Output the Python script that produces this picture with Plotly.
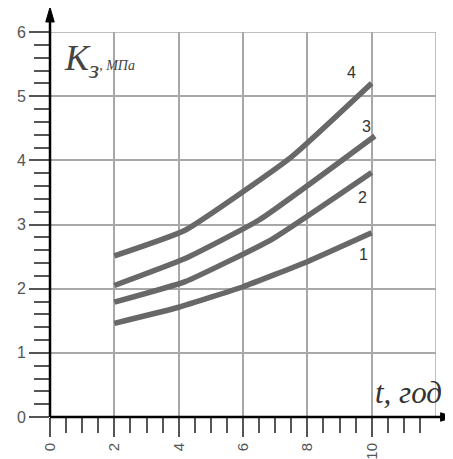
import plotly.graph_objects as go

# ---- data ----
t_c1 = [2, 4, 6, 8, 10]
k_c1 = [1.46, 1.71, 2.03, 2.42, 2.87]
t_c2 = [2, 4.2, 6.9, 10]
k_c2 = [1.79, 2.11, 2.77, 3.81]
t_c3 = [2, 4.2, 6.5, 10.1]
k_c3 = [2.05, 2.47, 3.07, 4.38]
t_c4 = [2, 4.2, 7.5, 10]
k_c4 = [2.51, 2.91, 4.05, 5.20]

curve_names = ["1", "2", "3", "4"]
label_t = [9.75, 9.7, 9.83, 9.37]
label_k = [2.53, 3.42, 4.53, 5.37]

x_ticks = [0, 2, 4, 6, 8, 10]
x_minor = [v / 2 for v in range(1, 24) if v % 4 != 0]
y_ticks = [0, 1, 2, 3, 4, 5, 6]

LINE_COL = "#686868"
GRID_COL = "#a8a8a8"
TXT_COL = "#555555"

fig = go.Figure()
for tt, kk in [(t_c1, k_c1), (t_c2, k_c2), (t_c3, k_c3), (t_c4, k_c4)]:
    fig.add_trace(go.Scatter(x=tt, y=kk, mode="lines",
                             line=dict(color=LINE_COL, width=5.5, shape="spline", smoothing=0.4),
                             hoverinfo="skip", showlegend=False))

for name, lt, lk in zip(curve_names, label_t, label_k):
    fig.add_annotation(x=lt, y=lk, xref="x", yref="y", text=name, showarrow=False,
                       font=dict(family="Liberation Sans, Arial", size=16, color="#333"))

# axis lines with arrows (paper coords)
fig.add_shape(type="line", xref="paper", yref="paper", x0=0, y0=0, x1=0, y1=1.035,
              line=dict(color="black", width=2.5))
fig.add_shape(type="path", xref="paper", yref="paper",
              path="M -0.011,1.026 L 0.011,1.026 L 0,1.064 Z",
              fillcolor="black", line=dict(color="black", width=1))
fig.add_shape(type="line", xref="paper", yref="paper", x0=0, y0=0, x1=1.02, y1=0,
              line=dict(color="black", width=2.5))
fig.add_shape(type="path", xref="paper", yref="paper",
              path="M 1.012,-0.011 L 1.012,0.011 L 1.046,0 Z",
              fillcolor="black", line=dict(color="black", width=1))
# right border and top grid lines
fig.add_shape(type="line", xref="x", yref="y", x0=12, y0=0, x1=12, y1=6,
              line=dict(color=GRID_COL, width=1.5), layer="below")
fig.add_shape(type="line", xref="x", yref="y", x0=0, y0=6, x1=12, y1=6,
              line=dict(color=GRID_COL, width=1.5), layer="below")

# axis titles
fig.add_annotation(xref="paper", yref="paper", x=0.03, y=0.99, xanchor="left", yanchor="top",
                   showarrow=False,
                   text=("<i><span style='font-size:36px'>K</span></i>"
                         "<sub><i><span style='font-size:26px'>з</span></i></sub>"
                         "<i><span style='font-size:14px'>, МПа</span></i>"),
                   font=dict(family="Liberation Serif, Times New Roman", size=36, color="#444"))
fig.add_annotation(xref="paper", yref="paper", x=0.838, y=0.012, xanchor="left", yanchor="bottom",
                   showarrow=False, text="<i>t, год</i>",
                   font=dict(family="Liberation Serif, Times New Roman", size=31, color="#333"))

# the page adds an 8px body margin, so the figure is 8px smaller and shifted accordingly
fig.update_layout(
    width=445, height=451,
    margin=dict(l=42, r=17, t=24, b=42, autoexpand=False),
    paper_bgcolor="white", plot_bgcolor="white",
    xaxis=dict(range=[0, 12], tickmode="array", tickvals=x_ticks, ticks="outside",
               ticklen=19, tickwidth=1.5, tickcolor="#555", tickangle=-90, automargin=False,
               tickfont=dict(family="Liberation Sans, Arial", size=15, color=TXT_COL),
               showgrid=True, gridcolor=GRID_COL, gridwidth=1.5, zeroline=False, showline=False,
               minor=dict(tickmode="array", tickvals=x_minor, ticks="outside", ticklen=15,
                          tickwidth=1.5, tickcolor="#555", showgrid=False),
               fixedrange=True),
    yaxis=dict(range=[0, 6], tickmode="array", tickvals=y_ticks, ticks="outside",
               ticklen=20, tickwidth=1.5, tickcolor="#555", automargin=False,
               tickfont=dict(family="Liberation Sans, Arial", size=16, color=TXT_COL),
               showgrid=True, gridcolor=GRID_COL, gridwidth=1.5, zeroline=False, showline=False,
               minor=dict(dtick=0.2, ticks="outside", ticklen=15, tickwidth=1.5,
                          tickcolor="#555", showgrid=False),
               fixedrange=True),
)

fig.write_html("out.html")
